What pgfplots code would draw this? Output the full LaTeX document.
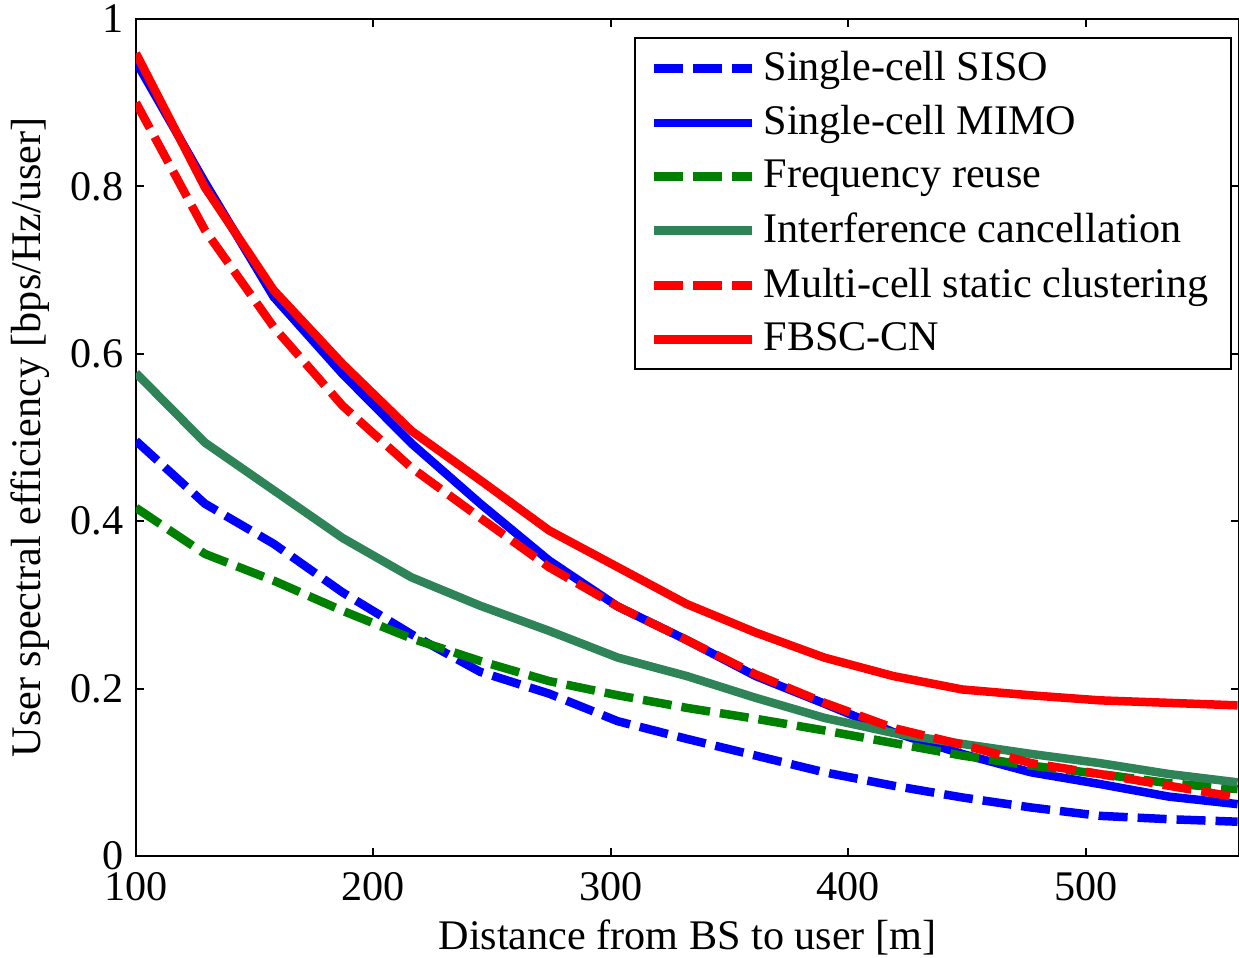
\documentclass[border=0pt]{standalone}
\usepackage{fontspec}
\setmainfont{Liberation Serif}
\usepackage{pgfplots}
\usepackage{pgfplotstable}
\pgfplotsset{compat=1.18}
\definecolor{mblue}{RGB}{0,0,255}
\definecolor{mgreen}{RGB}{0,128,0}
\definecolor{mseagreen}{RGB}{46,131,87}
\definecolor{mred}{RGB}{255,0,0}

\pgfplotstableread{
x    siso  mimo  fr    ic    mcsc  fbsc
100  0.496 0.949 0.416 0.577 0.900 0.959
129  0.421 0.805 0.361 0.494 0.748 0.799
158  0.373 0.668 0.329 0.437 0.632 0.676
187  0.315 0.576 0.293 0.380 0.538 0.588
216  0.265 0.493 0.260 0.333 0.464 0.508
245  0.220 0.421 0.233 0.299 0.404 0.449
274  0.194 0.353 0.209 0.269 0.345 0.389
303  0.161 0.298 0.192 0.237 0.298 0.345
332  0.140 0.258 0.177 0.215 0.258 0.301
361  0.120 0.215 0.164 0.189 0.217 0.267
390  0.100 0.182 0.150 0.165 0.183 0.237
419  0.084 0.148 0.135 0.147 0.153 0.215
448  0.070 0.122 0.120 0.134 0.133 0.199
477  0.058 0.100 0.108 0.122 0.111 0.192
506  0.048 0.086 0.098 0.111 0.098 0.186
535  0.044 0.071 0.087 0.098 0.084 0.183
564  0.041 0.062 0.080 0.088 0.070 0.180
}\datatable

\begin{document}
\begin{tikzpicture}
\begin{axis}[
  at={(0,0)}, anchor=south west,
  scale only axis, width=110.3mm, height=83.7mm,
  xmin=100, xmax=564.6, ymin=0, ymax=1,
  xtick={100,200,300,400,500},
  ytick={0,0.2,0.4,0.6,0.8,1},
  tick align=inside, major tick length=0.8mm,
  tick pos=both,
  axis line style={line width=0.6pt},
  every tick/.style={black, line width=0.6pt},
  /pgf/number format/assume math mode=true,
  tick label style={font=\fontsize{12}{14}\selectfont},
  xticklabel style={yshift=-0.4mm},
  xlabel={Distance from BS to user [m]},
  ylabel={User spectral efficiency [bps/Hz/user]},
  label style={font=\fontsize{12}{14}\selectfont},
  xlabel style={at={(axis description cs:0.5,-0.0968)}, anchor=center},
  ylabel style={at={(axis description cs:-0.0955,0.5)}, anchor=center},
  legend cell align=left,
  legend style={at={(0.4515,0.9785)}, anchor=north west, draw=black, line width=0.6pt,
    fill=white, font=\fontsize{12}{14}\selectfont, row sep=0.6mm,
    inner xsep=1.5mm, inner ysep=0.6mm},
  legend image code/.code={\draw[#1] (0mm,0mm) -- (9.8mm,0mm);},
  every axis plot/.append style={line width=0.85mm},
]
\addplot[mblue, dash pattern=on 2.9mm off 1mm] table[x=x,y=siso] {\datatable};
\addlegendentry{Single-cell SISO}
\addplot[mblue] table[x=x,y=mimo] {\datatable};
\addlegendentry{Single-cell MIMO}
\addplot[mgreen, dash pattern=on 2.9mm off 1mm] table[x=x,y=fr] {\datatable};
\addlegendentry{Frequency reuse}
\addplot[mseagreen] table[x=x,y=ic] {\datatable};
\addlegendentry{Interference cancellation}
\addplot[mred, dash pattern=on 2.9mm off 1mm] table[x=x,y=mcsc] {\datatable};
\addlegendentry{Multi-cell static clustering}
\addplot[mred] table[x=x,y=fbsc] {\datatable};
\addlegendentry{FBSC-CN}
\end{axis}
\pgfresetboundingbox
\path[use as bounding box] (-13.6mm,-10.1mm) rectangle (110.3mm,85.6mm);
\end{tikzpicture}
\end{document}
